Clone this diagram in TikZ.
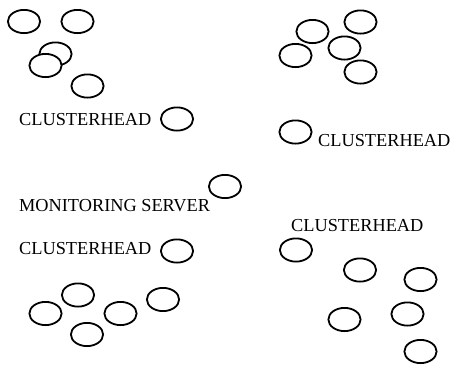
\documentclass[tikz,border=0pt]{standalone}
\usepackage{fontspec}
\setmainfont{Liberation Serif}
\usetikzlibrary{shapes.geometric}

\begin{document}
\begin{tikzpicture}[x=1pt,y=-1pt,
			sensor/.style={draw,ellipse,line width=1.8pt,fill=white,minimum width=32.2pt,minimum height=23.2pt,inner sep=0pt},
			tag/.style={anchor=base west,inner sep=0pt,font=\fontsize{18.3}{20}\selectfont}
			]
			\useasboundingbox (0,0) rectangle (451,365);
			% cluster top left
			\node[sensor] (tl1) at (24,21.5) {};
			\node[sensor] (tl2) at (77.5,21.5) {};
			\node[sensor] (tl3) at (55.5,54) {};
			\node[sensor] (tl4) at (45.5,65.5) {};
			\node[sensor] (tl5) at (87.5,86) {};
			\node[sensor] (ch1) at (177,119) {};
			\node[tag] (ch1lbl) at (19,125) {CLUSTERHEAD};
			% cluster top right
			\node[sensor] (tr1) at (312.5,31.5) {};
			\node[sensor] (tr2) at (360.5,22) {};
			\node[sensor] (tr3) at (295.5,55.5) {};
			\node[sensor] (tr4) at (344.5,48) {};
			\node[sensor] (tr5) at (360.5,72) {};
			\node[sensor] (ch2) at (295.5,132) {};
			\node[tag] (ch2lbl) at (318,146) {CLUSTERHEAD};
			% server
			\node[sensor] (srv) at (225,186.5) {};
			\node[tag] (srvlbl) at (19,211) {MONITORING SERVER};
			% cluster bottom left
			\node[sensor] (ch3) at (177,251) {};
			\node[tag] (ch3lbl) at (19,254.5) {CLUSTERHEAD};
			\node[sensor] (bl1) at (78,295) {};
			\node[sensor] (bl2) at (45.5,313.5) {};
			\node[sensor] (bl3) at (120.5,313.5) {};
			\node[sensor] (bl4) at (163,299.5) {};
			\node[sensor] (bl5) at (87,334.5) {};
			% cluster bottom right
			\node[sensor] (ch4) at (296,250) {};
			\node[tag] (ch4lbl) at (291,231.5) {CLUSTERHEAD};
			\node[sensor] (br1) at (360,270) {};
			\node[sensor] (br2) at (420.5,279.5) {};
			\node[sensor] (br3) at (344.5,319.5) {};
			\node[sensor] (br4) at (407.5,314) {};
			\node[sensor] (br5) at (420.5,351.5) {};
		\end{tikzpicture}
\end{document}
